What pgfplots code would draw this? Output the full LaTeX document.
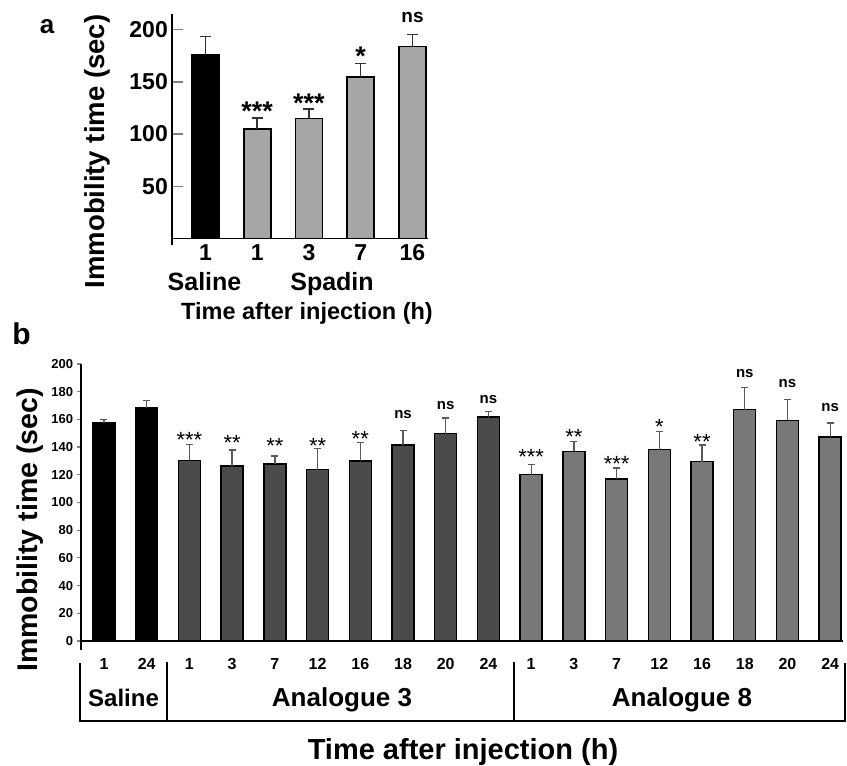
\documentclass[border=0pt]{standalone}
\usepackage{fontspec}
\setmainfont{Liberation Sans}
\usepackage{pgfplots}
\usepackage{pgfplotstable}
\pgfplotsset{compat=1.18}
\definecolor{spadin}{HTML}{A6A6A6}
\definecolor{anaA}{HTML}{4B4B4B}
\definecolor{anaB}{HTML}{787878}
\definecolor{errA}{HTML}{333333}
\definecolor{errB}{HTML}{595959}
\newcommand{\fs}[1]{\fontsize{#1}{#1}\selectfont}

% ---- panel a ----
\pgfplotstableread{
x y e
1 176 17.5
}\aSaline
\pgfplotstableread{
x y e
2 105 10.5
3 115 9
4 154.7 13
5 183.7 11.8
}\aSpadin
\pgfplotstableread{
x y
2 127.6
3 135
}\aThree
\pgfplotstableread{
x y
4 180
}\aOne
\pgfplotstableread{
x y
5 212
}\aNs

% ---- panel b ----
\pgfplotstableread{
x y e
1 157.3 2.4
2 168.5 5.1
}\bSaline
\pgfplotstableread{
x y e
3 130.5 11.3
4 126.4 11.5
5 127.8 5.8
6 123.8 15.2
7 129.9 13.3
8 141.5 10.3
9 149.7 11.3
10 161.7 4.1
}\bAnaA
\pgfplotstableread{
x y e
11 120.0 7.5
12 136.9 7.0
13 116.9 8.0
14 138.1 13.2
15 129.6 11.9
16 167.0 15.9
17 159.3 15.2
18 147.3 10.1
}\bAnaB
\pgfplotstableread{
x y
3 148.7
11 136
13 131.4
}\bThree
\pgfplotstableread{
x y
4 146.6
5 144.4
6 144.4
7 149.5
12 150.4
15 146.8
}\bTwo
\pgfplotstableread{
x y
14 158.1
}\bOne
\pgfplotstableread{
x y
8 163.2
9 169.7
10 174.7
16 192.8
17 186.1
18 168.7
}\bNs

\pgfplotsset{
  errAstyle/.style={error bars/.cd, y dir=plus, y explicit,
    error bar style={line width=1.5pt, errA},
    error mark options={rotate=90, line width=1.5pt, errA, mark size=5.5pt}},
  errBstyle/.style={error bars/.cd, y dir=plus, y explicit,
    error bar style={line width=1.3pt, errB},
    error mark options={rotate=90, line width=1.3pt, errB, mark size=3.5pt}},
}

\begin{document}
\begin{tikzpicture}[x=1pt,y=1pt]
\path[use as bounding box] (0,0) rectangle (847,766);

% ================= panel a =================
\begin{axis}[
  at={(172pt,527.5pt)}, anchor=south west,
  scale only axis, width=256pt, height=224.5pt,
  xmin=0.353, xmax=5.3, ymin=0, ymax=215,
  axis x line*=bottom, axis y line*=left,
  axis line style={line width=1.4pt},
  xtick={1,2,3,4,5}, xticklabels={1,1,3,7,16},
  ytick={50,100,150,200},
  x tick style={draw=none},
  y tick style={line width=1.4pt},
  tick align=inside, major tick length=11pt,
  /pgf/number format/assume math mode=true,
  tick label style={font=\bfseries\fs{23}, inner sep=0pt},
  xticklabel style={anchor=center, yshift=-14.5pt},
  yticklabel style={anchor=east, xshift=-4pt},
  clip=false,
]
\addplot[ybar, bar width=27pt, bar shift=0pt, fill=black, draw=black, line width=1.6pt, errAstyle]
  table[x=x, y=y, y error=e] {\aSaline};
\addplot[ybar, bar width=27pt, bar shift=0pt, fill=spadin, draw=black, line width=1.6pt, errAstyle]
  table[x=x, y=y, y error=e] {\aSpadin};
\addplot[only marks, mark=text, text mark as node=true, text mark={***},
  text mark style={font=\bfseries\fs{27}, anchor=center, yshift=-5.7pt}] table[x=x,y=y] {\aThree};
\addplot[only marks, mark=text, text mark as node=true, text mark={*},
  text mark style={font=\bfseries\fs{27}, anchor=center, yshift=-5.7pt}] table[x=x,y=y] {\aOne};
\addplot[only marks, mark=text, text mark as node=true, text mark={ns},
  text mark style={font=\bfseries\fs{19}, anchor=center}] table[x=x,y=y] {\aNs};
\draw[line width=1.4pt] (axis cs:0.353,0) -- (axis cs:0.353,-6);
\end{axis}

% ================= panel b =================
\begin{axis}[
  at={(81pt,125pt)}, anchor=south west,
  scale only axis, width=762pt, height=277pt,
  xmin=0.462, xmax=18.3, ymin=0, ymax=200,
  axis x line*=bottom, axis y line*=left,
  axis line style={line width=1.3pt},
  xtick={1,...,18},
  xticklabels={1,24,1,3,7,12,16,18,20,24,1,3,7,12,16,18,20,24},
  ytick={0,20,...,200},
  x tick style={draw=none},
  y tick style={line width=1.2pt},
  tick align=outside, major tick length=4pt,
  /pgf/number format/assume math mode=true,
  tick label style={font=\bfseries\fs{13}, inner sep=0pt},
  xticklabel style={font=\bfseries\fs{16}, anchor=center, yshift=-19pt},
  yticklabel style={anchor=east, xshift=-3.7pt},
  clip=false,
]
\addplot[ybar, bar width=22pt, bar shift=0pt, fill=black, draw=black, line width=1.4pt, errBstyle]
  table[x=x, y=y, y error=e] {\bSaline};
\addplot[ybar, bar width=22pt, bar shift=0pt, fill=anaA, draw=black, line width=1.4pt, errBstyle]
  table[x=x, y=y, y error=e] {\bAnaA};
\addplot[ybar, bar width=22pt, bar shift=0pt, fill=anaB, draw=black, line width=1.4pt, errBstyle]
  table[x=x, y=y, y error=e] {\bAnaB};
\addplot[only marks, mark=text, text mark as node=true, text mark={***},
  text mark style={font=\fs{22}, anchor=center, yshift=-4.6pt}] table[x=x,y=y] {\bThree};
\addplot[only marks, mark=text, text mark as node=true, text mark={**},
  text mark style={font=\fs{22}, anchor=center, yshift=-4.6pt}] table[x=x,y=y] {\bTwo};
\addplot[only marks, mark=text, text mark as node=true, text mark={*},
  text mark style={font=\fs{22}, anchor=center, yshift=-4.6pt}] table[x=x,y=y] {\bOne};
\addplot[only marks, mark=text, text mark as node=true, text mark={ns},
  text mark style={font=\bfseries\fs{15}, anchor=center}] table[x=x,y=y] {\bNs};
\draw[line width=1.3pt] (axis cs:0.462,0) -- (axis cs:0.462,-6.5);
\end{axis}

% ---- texts panel a ----
\node[font=\bfseries\fs{26}] at (47,739.5) {a};
\node[font=\bfseries\fs{27.5}, rotate=90] at (97,614.5) {Immobility time (sec)};
\node[font=\bfseries\fs{25}, anchor=base] at (204.5,475) {Saline};
\node[font=\bfseries\fs{25}, anchor=base] at (332,475) {Spadin};
\node[font=\bfseries\fs{23.5}] at (307,453) {Time after injection (h)};

% ---- texts panel b ----
\node[font=\bfseries\fs{30}] at (21.5,432) {b};
\node[font=\bfseries\fs{28.5}, rotate=90] at (30,236) {Immobility time (sec)};
\draw[line width=1.3pt] (80,103) -- (80,45) -- (845,45) -- (845,103);
\draw[line width=1.3pt] (167,104) -- (167,45);
\draw[line width=1.3pt] (514,104) -- (514,45);
\node[font=\bfseries\fs{24}, anchor=base] at (123.5,59.5) {Saline};
\node[font=\bfseries\fs{26}, anchor=base] at (342,59.5) {Analogue 3};
\node[font=\bfseries\fs{26}, anchor=base] at (682,59.5) {Analogue 8};
\node[font=\bfseries\fs{29}, anchor=base] at (463,6) {Time after injection (h)};
\end{tikzpicture}
\end{document}
